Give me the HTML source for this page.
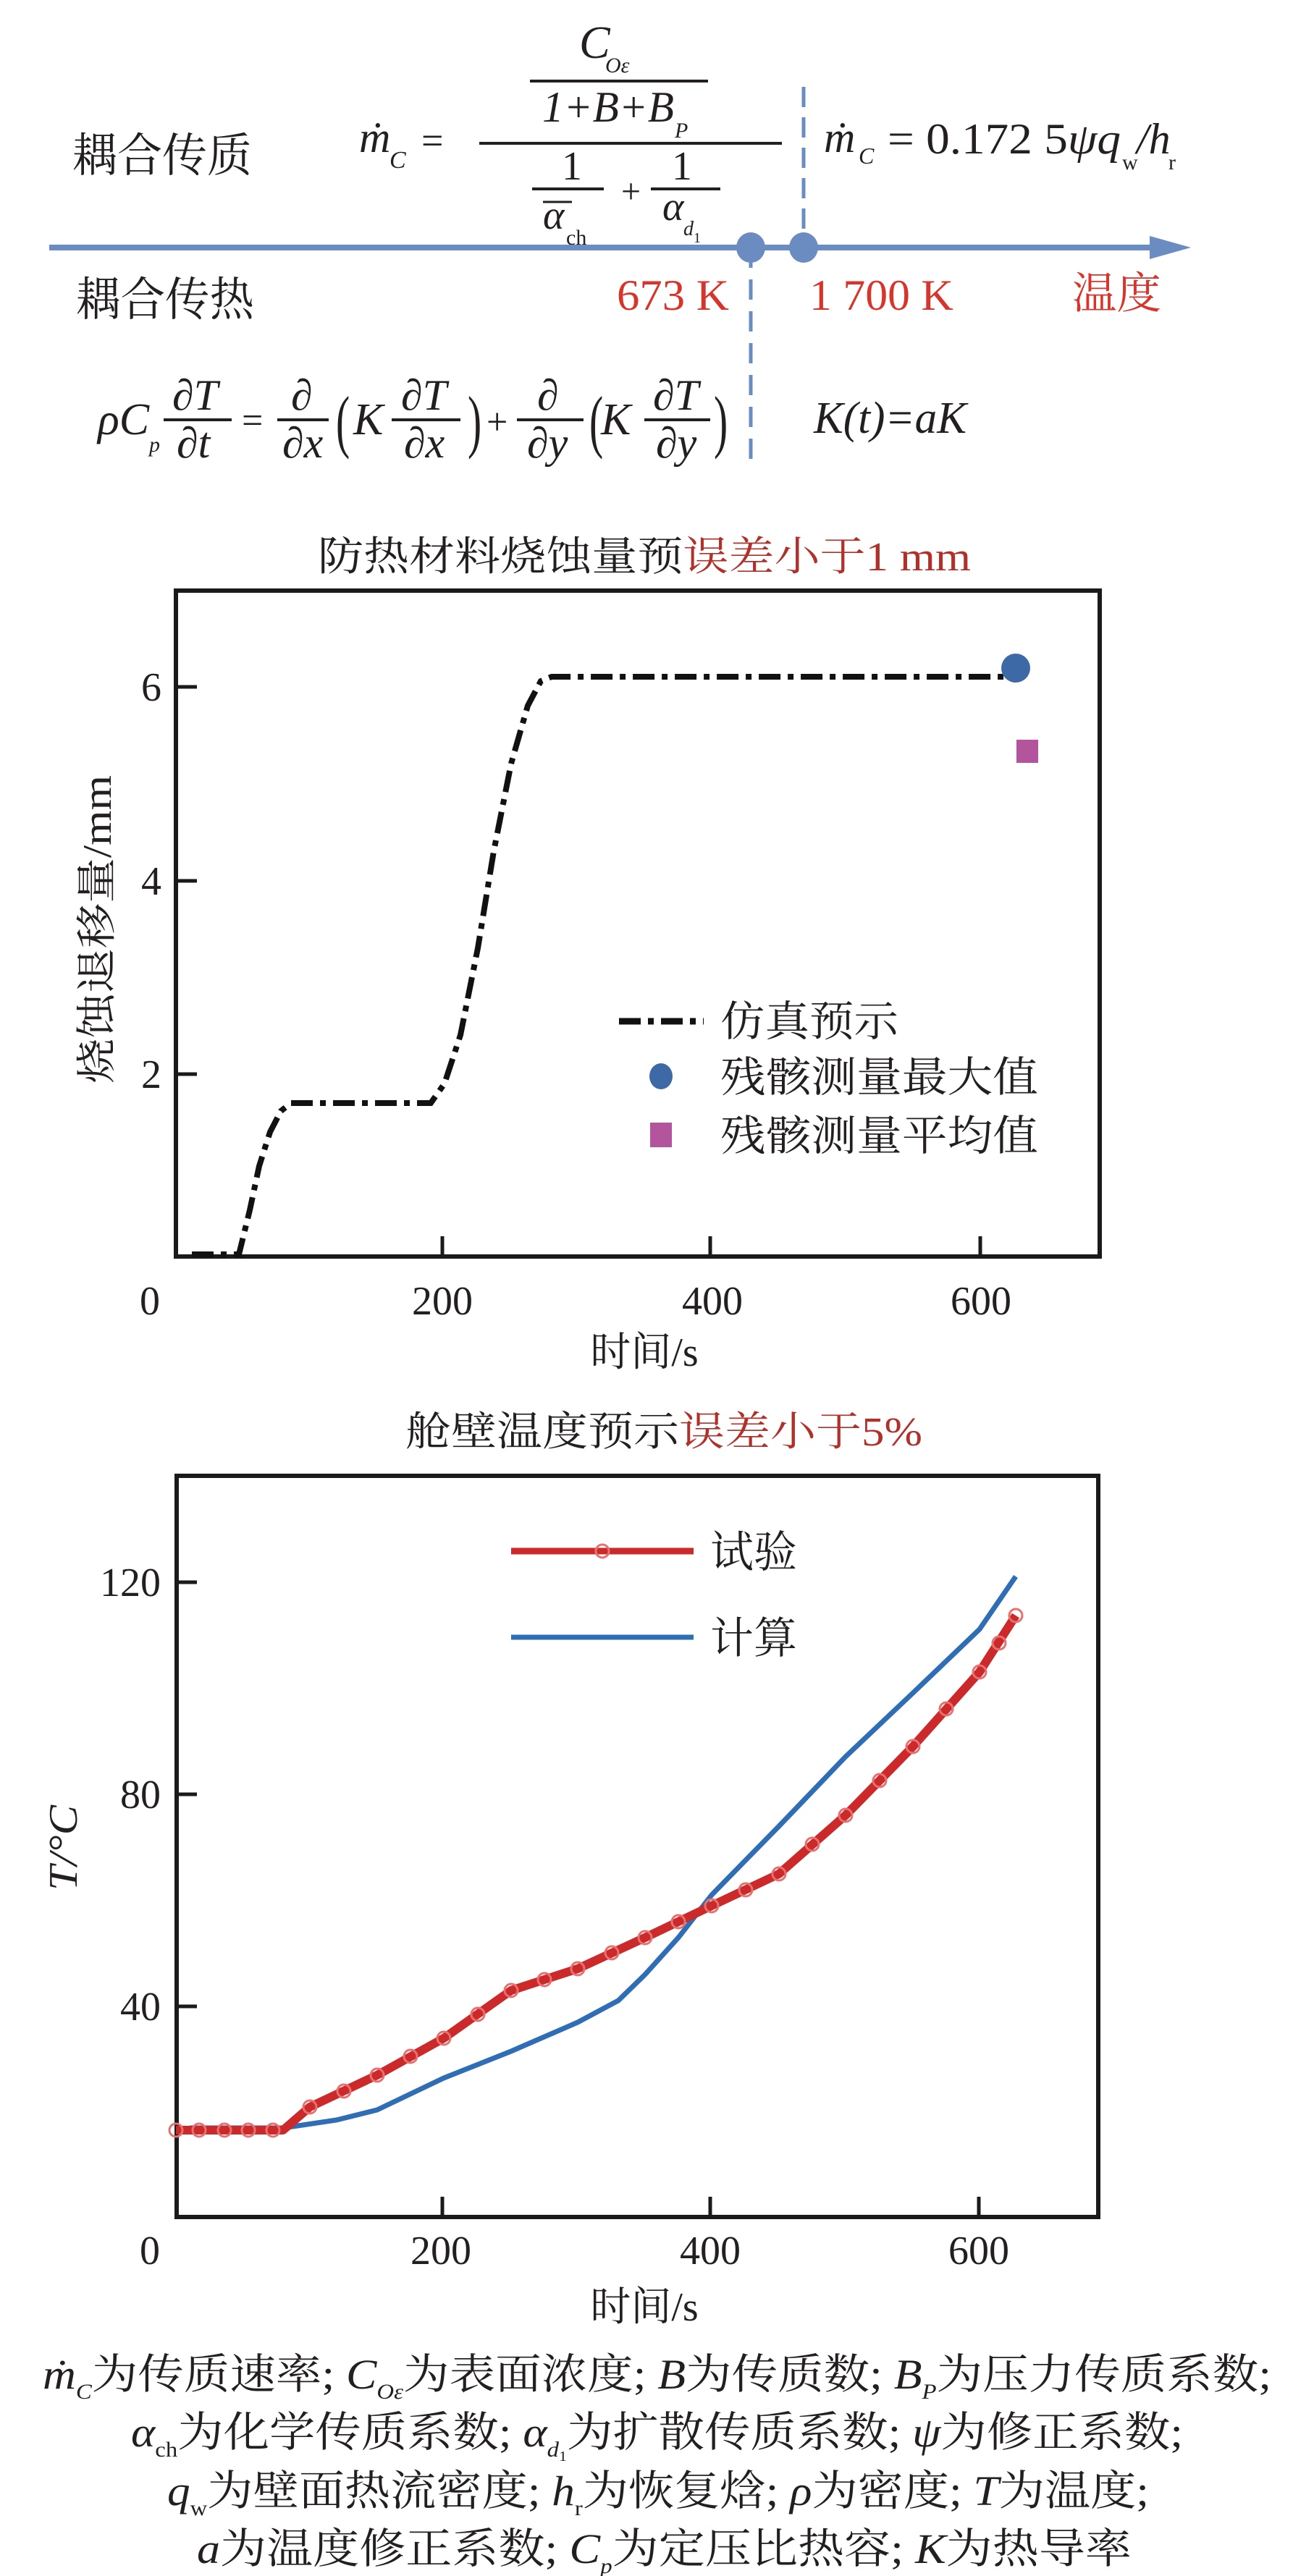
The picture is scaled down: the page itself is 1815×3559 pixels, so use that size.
<!DOCTYPE html>
<html><head><meta charset="utf-8"><style>
html,body{margin:0;padding:0;background:#fff}
svg{display:block}
text{font-family:"Liberation Serif","Noto Serif CJK SC",serif;fill:#231f20}
.i{font-style:italic}
.r{fill:#d8342b}
.dr{fill:#b0302a}
</style></head><body>
<svg width="1815" height="3559" viewBox="0 0 1815 3559" xmlns="http://www.w3.org/2000/svg">
<rect width="1815" height="3559" fill="#fff"/>
<!-- ===== Top schematic ===== -->
<text x="100" y="237" font-size="64" textLength="248" lengthAdjust="spacingAndGlyphs">耦合传质</text>
<text x="105" y="436" font-size="64" textLength="246" lengthAdjust="spacingAndGlyphs">耦合传热</text>
<text class="i" x="496" y="210" font-size="60">ṁ</text>
<text class="i" x="538" y="232" font-size="34">C</text>
<text x="582" y="212" font-size="54">=</text>
<line x1="662" y1="198" x2="1080" y2="198" stroke="#231f20" stroke-width="4"/>
<text class="i" x="800" y="80" font-size="64">C</text>
<text class="i" x="836" y="100" font-size="30">Oε</text>
<line x1="732" y1="112" x2="978" y2="112" stroke="#231f20" stroke-width="4"/>
<text class="i" x="749" y="168" font-size="60" textLength="182" lengthAdjust="spacingAndGlyphs">1+B+B</text>
<text class="i" x="932" y="190" font-size="30">P</text>
<text x="776" y="248" font-size="56">1</text>
<line x1="735" y1="261" x2="834" y2="261" stroke="#231f20" stroke-width="4"/>
<text x="858" y="280" font-size="48">+</text>
<text x="928" y="248" font-size="56">1</text>
<line x1="899" y1="261" x2="995" y2="261" stroke="#231f20" stroke-width="4"/>
<line x1="750" y1="279" x2="790" y2="279" stroke="#231f20" stroke-width="3"/>
<text class="i" x="750" y="316" font-size="56">α</text>
<text x="782" y="338" font-size="30">ch</text>
<text class="i" x="915" y="304" font-size="56">α</text>
<text class="i" x="944" y="325" font-size="28">d</text>
<text x="958" y="335" font-size="20">1</text>
<text class="i" x="1138" y="210" font-size="60">ṁ</text>
<text class="i" x="1186" y="226" font-size="32">C</text>
<text x="1226" y="212" font-size="60" textLength="322" lengthAdjust="spacingAndGlyphs">= 0.172 5<tspan class="i">ψq</tspan></text>
<text x="1550" y="234" font-size="30">w</text>
<text class="i" x="1570" y="212" font-size="60">/h</text>
<text x="1614" y="234" font-size="30">r</text>
<line x1="1110" y1="120" x2="1110" y2="342" stroke="#6b8cc0" stroke-width="5" stroke-dasharray="28,14"/>
<line x1="1037" y1="342" x2="1037" y2="650" stroke="#6b8cc0" stroke-width="5" stroke-dasharray="28,16"/>
<line x1="68" y1="342" x2="1600" y2="342" stroke="#6b8cc0" stroke-width="8"/>
<polygon points="1588,326 1645,342 1588,358" fill="#6b8cc0"/>
<ellipse cx="1037" cy="342" rx="20" ry="21" fill="#6b8cc0"/>
<ellipse cx="1110" cy="342" rx="20" ry="21" fill="#6b8cc0"/>
<text class="r" x="852" y="428" font-size="60" textLength="155" lengthAdjust="spacingAndGlyphs">673 K</text>
<text class="r" x="1118" y="428" font-size="60" textLength="199" lengthAdjust="spacingAndGlyphs">1 700 K</text>
<text class="r" x="1481" y="426" font-size="60" textLength="123" lengthAdjust="spacingAndGlyphs">温度</text>
<!-- PDE -->
<text class="i" x="135" y="600" font-size="62">ρC</text>
<text class="i" x="206" y="624" font-size="30">p</text>
<line x1="226" y1="580" x2="320" y2="580" stroke="#231f20" stroke-width="4"/>
<text class="i" x="238" y="566" font-size="60">∂T</text>
<text class="i" x="244" y="632" font-size="60">∂t</text>
<text x="334" y="598" font-size="52">=</text>
<line x1="383" y1="580" x2="454" y2="580" stroke="#231f20" stroke-width="4"/>
<text class="i" x="402" y="566" font-size="60">∂</text>
<text class="i" x="390" y="632" font-size="60">∂x</text>
<text x="464" y="614" font-size="96" transform="translate(464 614) scale(0.6 1) translate(-464 -614)">(</text>
<text class="i" x="488" y="600" font-size="62">K</text>
<line x1="541" y1="580" x2="636" y2="580" stroke="#231f20" stroke-width="4"/>
<text class="i" x="554" y="566" font-size="60">∂T</text>
<text class="i" x="558" y="632" font-size="60">∂x</text>
<text x="646" y="614" font-size="96" transform="translate(646 614) scale(0.6 1) translate(-646 -614)">)</text>
<text x="672" y="600" font-size="52">+</text>
<line x1="714" y1="580" x2="806" y2="580" stroke="#231f20" stroke-width="4"/>
<text class="i" x="742" y="566" font-size="60">∂</text>
<text class="i" x="728" y="632" font-size="60">∂y</text>
<text x="814" y="614" font-size="96" transform="translate(814 614) scale(0.6 1) translate(-814 -614)">(</text>
<text class="i" x="830" y="600" font-size="62">K</text>
<line x1="890" y1="580" x2="981" y2="580" stroke="#231f20" stroke-width="4"/>
<text class="i" x="902" y="566" font-size="60">∂T</text>
<text class="i" x="906" y="632" font-size="60">∂y</text>
<text x="986" y="614" font-size="96" transform="translate(986 614) scale(0.6 1) translate(-986 -614)">)</text>
<text class="i" x="1124" y="598" font-size="62" textLength="211" lengthAdjust="spacingAndGlyphs">K(t)=aK</text>

<!-- ===== Chart 1 ===== -->
<text x="439" y="788" font-size="56" textLength="902" lengthAdjust="spacingAndGlyphs">防热材料烧蚀量预<tspan class="dr">误差小于1 mm</tspan></text>
<rect x="243" y="816" width="1276" height="920" fill="none" stroke="#1a1a1a" stroke-width="6"/>
<g stroke="#1a1a1a" stroke-width="5">
<line x1="243" y1="949" x2="272" y2="949"/><line x1="243" y1="1217" x2="272" y2="1217"/><line x1="243" y1="1484" x2="272" y2="1484"/>
<line x1="611" y1="1736" x2="611" y2="1708"/><line x1="981" y1="1736" x2="981" y2="1708"/><line x1="1354" y1="1736" x2="1354" y2="1708"/>
</g>
<g font-size="56" text-anchor="middle">
<text x="209" y="968">6</text><text x="209" y="1236">4</text><text x="209" y="1503">2</text>
<text x="207" y="1816">0</text><text x="611" y="1816">200</text><text x="984" y="1816">400</text><text x="1355" y="1816">600</text>
</g>
<text x="890" y="1887" font-size="56" text-anchor="middle">时间/s</text>
<text x="0" y="0" font-size="56" textLength="426" lengthAdjust="spacingAndGlyphs" transform="translate(153 1497) rotate(-90)">烧蚀退移量/mm</text>
<polyline fill="none" stroke="#111" stroke-width="8" stroke-dasharray="30,10,8,10" points="265,1733 330,1733 345,1672 358,1611 373,1564 388,1535 402,1524 595,1524 614,1497 636,1430 660,1310 682,1176 706,1055 729,975 747,941 762,935 1395,935"/>
<circle cx="1403" cy="923" r="20" fill="#3d6aa6"/>
<rect x="1404" y="1022" width="30" height="32" fill="#b2559c"/>
<line x1="855" y1="1411" x2="972" y2="1411" stroke="#111" stroke-width="9" stroke-dasharray="30,10,8,10"/>
<text x="995" y="1431" font-size="58" textLength="246" lengthAdjust="spacingAndGlyphs">仿真预示</text>
<ellipse cx="913" cy="1487" rx="16" ry="18" fill="#3d6aa6"/>
<text x="995" y="1508" font-size="58" textLength="439" lengthAdjust="spacingAndGlyphs">残骸测量最大值</text>
<rect x="898" y="1551" width="30" height="34" fill="#b2559c"/>
<text x="995" y="1589" font-size="58" textLength="439" lengthAdjust="spacingAndGlyphs">残骸测量平均值</text>

<!-- ===== Chart 2 ===== -->
<text x="560" y="1997" font-size="56" textLength="714" lengthAdjust="spacingAndGlyphs">舱壁温度预示<tspan class="dr">误差小于5%</tspan></text>
<rect x="244" y="2039" width="1273" height="1024" fill="none" stroke="#1a1a1a" stroke-width="6"/>
<g stroke="#1a1a1a" stroke-width="5">
<line x1="244" y1="2186" x2="272" y2="2186"/><line x1="244" y1="2479" x2="272" y2="2479"/><line x1="244" y1="2772" x2="272" y2="2772"/>
<line x1="611" y1="3063" x2="611" y2="3035"/><line x1="981" y1="3063" x2="981" y2="3035"/><line x1="1352" y1="3063" x2="1352" y2="3035"/>
</g>
<g font-size="56">
<text x="222" y="2205" text-anchor="end">120</text><text x="222" y="2498" text-anchor="end">80</text><text x="222" y="2791" text-anchor="end">40</text>
<text x="207" y="3128" text-anchor="middle">0</text><text x="609" y="3128" text-anchor="middle">200</text><text x="981" y="3128" text-anchor="middle">400</text><text x="1352" y="3128" text-anchor="middle">600</text>
</g>
<text x="890" y="3206" font-size="56" text-anchor="middle">时间/s</text>
<text class="i" x="0" y="0" font-size="56" textLength="118" lengthAdjust="spacingAndGlyphs" transform="translate(106 2612) rotate(-90)">T/°C</text>
<polyline fill="none" stroke="#2f6db5" stroke-width="7" points="262,2940 391,2940 465,2929 521,2915 613,2871 706,2834 798,2794 854,2764 891,2728 937,2677 983,2618 1076,2523 1168,2427 1261,2339 1353,2251 1403,2178"/>
<polyline fill="none" stroke="#cc2a2a" stroke-width="12" stroke-linejoin="round" points="243,2943 391,2943 428,2911 521,2867 613,2816 706,2750 798,2720 891,2677 983,2633 1076,2589 1168,2508 1261,2413 1353,2310 1403,2232"/>
<g fill="none" stroke="#e87070" stroke-width="3">
<circle cx="243" cy="2943" r="9"/><circle cx="275" cy="2943" r="9"/><circle cx="310" cy="2943" r="9"/><circle cx="343" cy="2943" r="9"/><circle cx="377" cy="2943" r="9"/>
<circle cx="428" cy="2911" r="9"/><circle cx="475" cy="2889" r="9"/><circle cx="521" cy="2867" r="9"/><circle cx="567" cy="2841" r="9"/><circle cx="613" cy="2816" r="9"/>
<circle cx="660" cy="2783" r="9"/><circle cx="706" cy="2750" r="9"/><circle cx="752" cy="2735" r="9"/><circle cx="798" cy="2720" r="9"/><circle cx="845" cy="2698" r="9"/>
<circle cx="891" cy="2677" r="9"/><circle cx="937" cy="2655" r="9"/><circle cx="983" cy="2633" r="9"/><circle cx="1030" cy="2611" r="9"/><circle cx="1076" cy="2589" r="9"/>
<circle cx="1122" cy="2548" r="9"/><circle cx="1168" cy="2508" r="9"/><circle cx="1215" cy="2460" r="9"/><circle cx="1261" cy="2413" r="9"/><circle cx="1307" cy="2361" r="9"/>
<circle cx="1353" cy="2310" r="9"/><circle cx="1380" cy="2270" r="9"/><circle cx="1403" cy="2232" r="9"/>
</g>
<line x1="706" y1="2143" x2="958" y2="2143" stroke="#cc2a2a" stroke-width="9"/>
<circle cx="832" cy="2143" r="9" fill="none" stroke="#e87070" stroke-width="3"/>
<text x="981" y="2165" font-size="60" textLength="120" lengthAdjust="spacingAndGlyphs">试验</text>
<line x1="706" y1="2262" x2="958" y2="2262" stroke="#2f6db5" stroke-width="7"/>
<text x="981" y="2284" font-size="60" textLength="120" lengthAdjust="spacingAndGlyphs">计算</text>

<!-- ===== Notes ===== -->
<g font-size="58">
<text x="59" y="3300" textLength="1697" lengthAdjust="spacingAndGlyphs"><tspan class="i">ṁ</tspan><tspan class="i" font-size="30" dy="14">C</tspan><tspan dy="-14">为传质速率; </tspan><tspan class="i">C</tspan><tspan class="i" font-size="30" dy="14">Oε</tspan><tspan dy="-14">为表面浓度; </tspan><tspan class="i">B</tspan><tspan>为传质数; </tspan><tspan class="i">B</tspan><tspan class="i" font-size="30" dy="14">P</tspan><tspan dy="-14">为压力传质系数;</tspan></text>
<text x="181" y="3380" textLength="1453" lengthAdjust="spacingAndGlyphs"><tspan class="i">α</tspan><tspan font-size="30" dy="14">ch</tspan><tspan dy="-14">为化学传质系数; </tspan><tspan class="i">α</tspan><tspan class="i" font-size="30" dy="14">d</tspan><tspan font-size="20" dy="6">1</tspan><tspan dy="-20">为扩散传质系数; </tspan><tspan class="i">ψ</tspan><tspan>为修正系数;</tspan></text>
<text x="231" y="3461" textLength="1356" lengthAdjust="spacingAndGlyphs"><tspan class="i">q</tspan><tspan font-size="30" dy="14">w</tspan><tspan dy="-14">为壁面热流密度; </tspan><tspan class="i">h</tspan><tspan font-size="30" dy="14">r</tspan><tspan dy="-14">为恢复焓; </tspan><tspan class="i">ρ</tspan><tspan>为密度; </tspan><tspan class="i">T</tspan><tspan>为温度;</tspan></text>
<text x="272" y="3541" textLength="1291" lengthAdjust="spacingAndGlyphs"><tspan class="i">a</tspan><tspan>为温度修正系数;  </tspan><tspan class="i">C</tspan><tspan class="i" font-size="30" dy="14">p</tspan><tspan dy="-14">为定压比热容; </tspan><tspan class="i">K</tspan><tspan>为热导率</tspan></text>
</g>
</svg>
</body></html>
